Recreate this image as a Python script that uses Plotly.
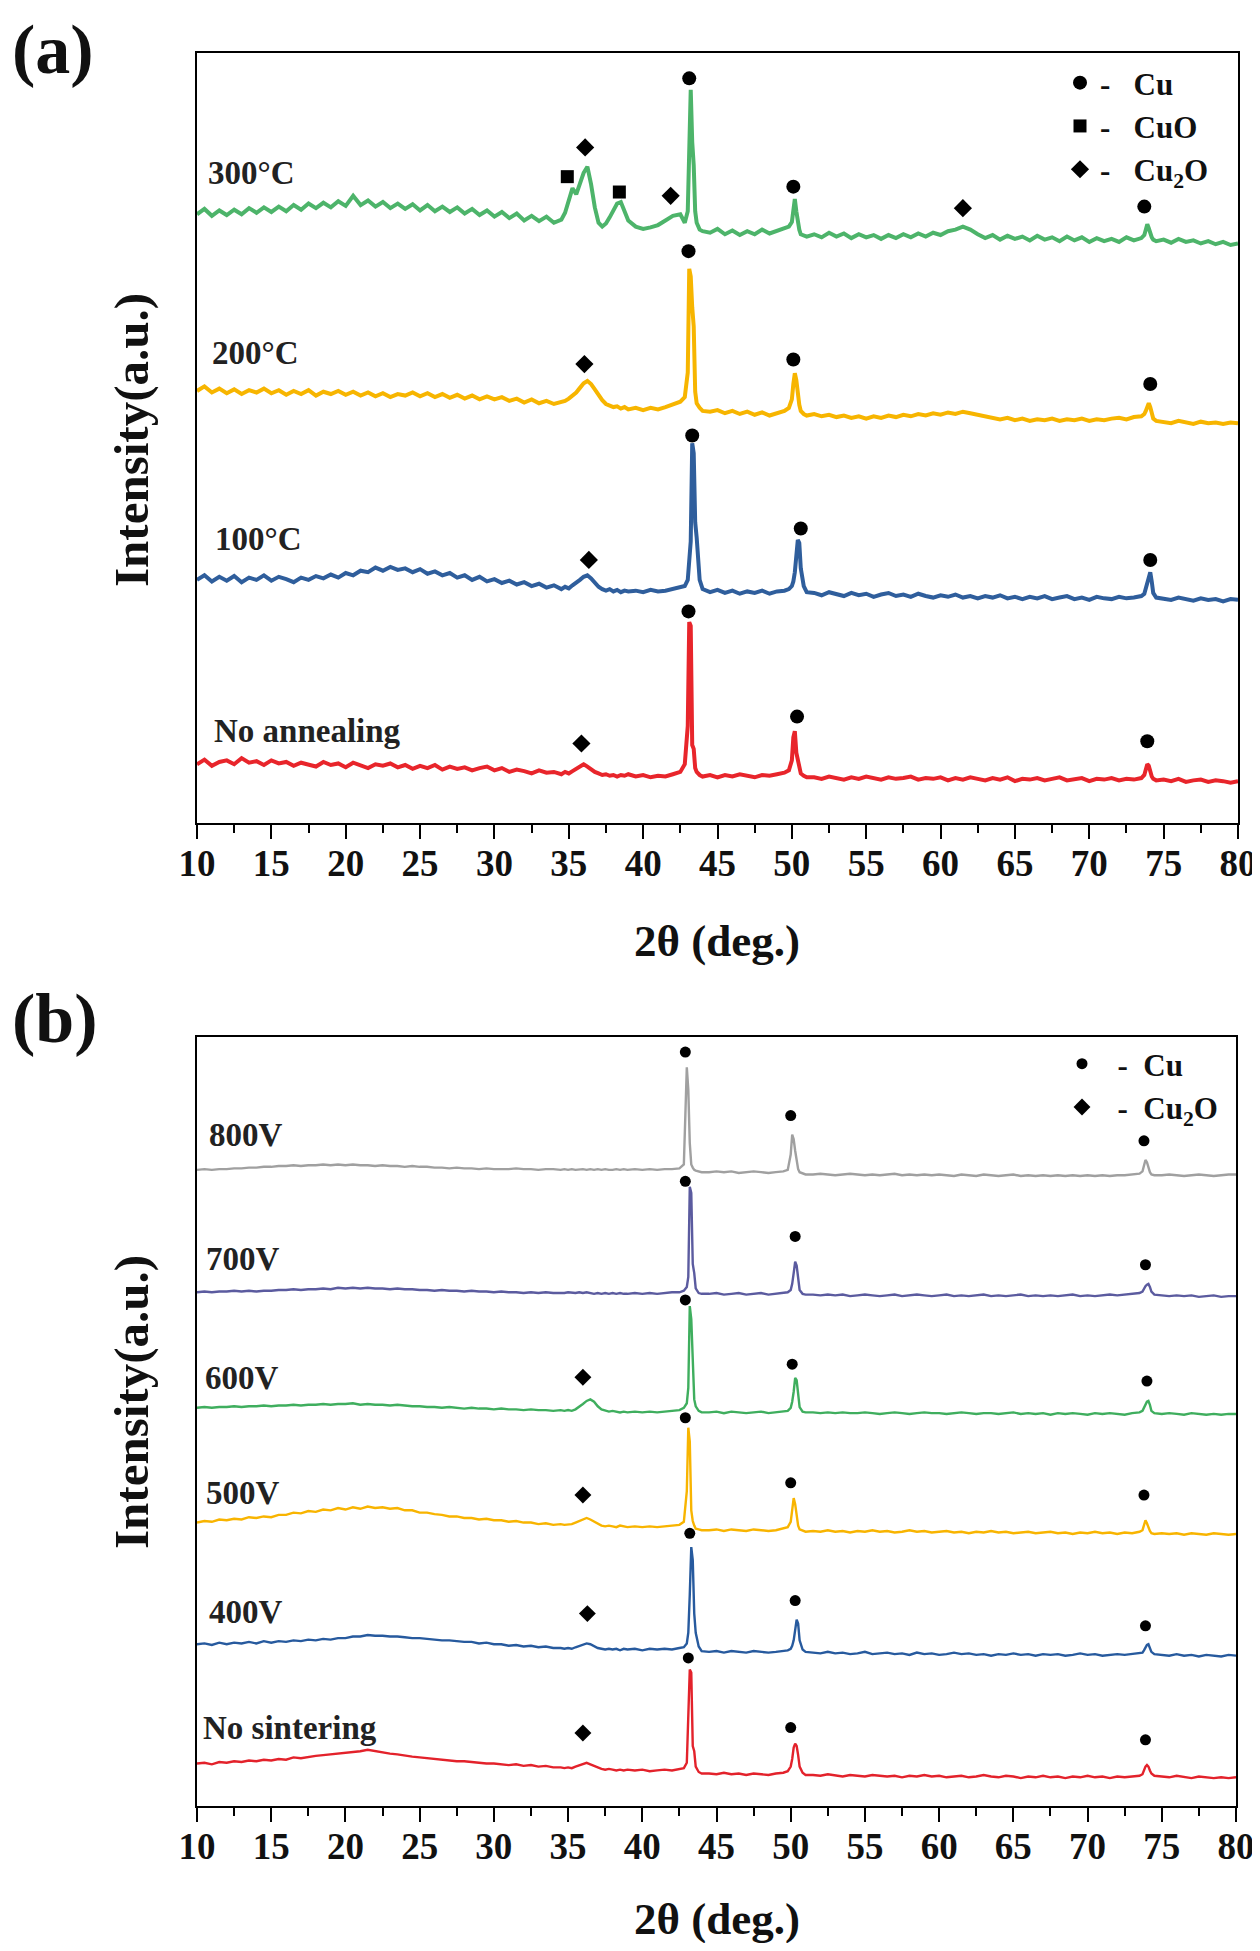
import plotly.graph_objects as go

# ---------------- shared 2-theta grid (deg) ----------------
TWO_THETA = [
    10.0, 10.5, 11.0, 11.5, 12.0, 12.5, 13.0, 13.5, 14.0, 14.5, 15.0, 15.5, 16.0, 16.5, 17.0, 17.5,
    18.0, 18.5, 19.0, 19.5, 20.0, 20.5, 21.0, 21.5, 22.0, 22.5, 23.0, 23.5, 24.0, 24.5, 25.0, 25.5,
    26.0, 26.5, 27.0, 27.5, 28.0, 28.5, 29.0, 29.5, 30.0, 30.5, 31.0, 31.5, 32.0, 32.5, 33.0, 33.5,
    34.0, 34.5,
    34.75, 35.0, 35.25, 35.5, 35.75, 36.0, 36.25, 36.5, 36.75, 37.0, 37.25, 37.5, 37.75, 38.0, 38.25,
    38.5, 38.75, 39.0,
    39.5, 40.0, 40.5, 41.0, 41.5, 42.0, 42.5,
    42.8, 43.0, 43.1, 43.2, 43.3, 43.4, 43.5, 43.6, 43.8, 44.0,
    44.5, 45.0, 45.5, 46.0, 46.5, 47.0, 47.5, 48.0, 48.5, 49.0, 49.5,
    49.8, 50.0, 50.1, 50.2, 50.3, 50.4, 50.5, 50.6, 50.8, 51.0,
    51.5, 52.0, 52.5, 53.0, 53.5, 54.0, 54.5, 55.0, 55.5, 56.0, 56.5, 57.0, 57.5, 58.0, 58.5, 59.0,
    59.5, 60.0, 60.5, 61.0, 61.5, 62.0, 62.5, 63.0, 63.5, 64.0, 64.5, 65.0, 65.5, 66.0, 66.5, 67.0,
    67.5, 68.0, 68.5, 69.0, 69.5, 70.0, 70.5, 71.0, 71.5, 72.0, 72.5, 73.0, 73.5,
    73.7, 73.8, 73.9, 74.0, 74.1, 74.2, 74.3, 74.5,
    75.0, 75.5, 76.0, 76.5, 77.0, 77.5, 78.0, 78.5, 79.0, 79.5, 80.0,
]

# ---------------- panel (a): annealing temperature (stacked intensity, a.u.) ----------------
A_NAMES = ["No annealing", "100°C", "200°C", "300°C"]

a_no_annealing = [
    7.0, 7.6, 6.8, 7.3, 7.5, 7.0, 7.8, 7.2, 7.4, 6.9, 7.5, 7.1, 7.3, 6.8, 7.2, 7.0, 6.7, 7.3, 6.9, 7.1,
    6.6, 7.2, 6.9, 6.5, 7.0, 6.8, 7.1, 6.6, 6.9, 6.4, 6.8, 6.5, 6.9, 6.3, 6.7, 6.4, 6.6, 6.2, 6.5, 6.7,
    6.2, 6.5, 6.0, 6.3, 6.1, 5.8, 6.2, 5.9, 6.0, 5.7,
    6.0, 5.8, 6.1, 6.4, 6.8, 7.0, 6.7, 6.3, 6.0, 5.8, 5.6, 5.7, 5.5, 5.6, 5.4, 5.6, 5.5, 5.7,
    5.4, 5.6, 5.3, 5.5, 5.4, 5.7, 6.0,
    7.0, 12.0, 25.5, 25.0, 9.5, 9.0, 6.5, 6.0, 5.6, 5.4,
    5.6, 5.3, 5.6, 5.4, 5.7, 5.5, 5.3, 5.6, 5.5, 5.7, 5.9,
    6.2, 7.5, 10.5, 11.3, 8.5, 7.6, 6.5, 5.8, 5.5, 5.3,
    5.3, 5.1, 5.4, 5.2, 5.0, 5.3, 5.1, 5.4, 5.2, 5.0, 5.3, 5.1, 5.2, 5.4, 5.0, 5.2, 5.1, 5.3, 4.9, 5.2,
    5.0, 5.3, 5.1, 4.9, 5.2, 5.0, 5.3, 4.8, 5.1, 5.0, 5.2, 4.9, 5.1, 5.3, 4.9, 5.0, 5.2, 4.8, 5.1, 5.0,
    5.2, 4.9, 5.1, 5.0, 5.2,
    5.6, 6.6, 7.0, 6.8, 6.0, 5.4, 5.1, 4.9,
    5.0, 4.8, 5.1, 4.7, 4.9, 5.0, 4.7, 4.9, 4.8, 4.6, 4.8,
]

a_100 = [
    31.0, 31.6, 30.8, 31.4, 30.9, 31.5, 30.7, 31.3, 31.0, 31.6, 30.9, 31.4, 31.1, 30.7, 31.3, 31.0,
    31.5, 31.2, 31.7, 31.3, 31.9, 31.6, 32.2, 32.0, 32.6, 32.2, 32.7, 32.3, 32.5, 32.0, 32.4, 31.8,
    32.1, 31.6, 31.9, 31.3, 31.6, 31.0, 31.4, 30.8, 31.1, 30.6, 30.9, 30.4, 30.7, 30.2, 30.5, 30.0,
    30.3, 29.8,
    30.1, 29.9, 30.3, 30.6, 31.0, 31.4, 31.6, 31.2, 30.6, 30.1, 29.8, 29.6, 29.8, 29.5, 29.7, 29.4, 29.6, 29.5,
    29.6, 29.4, 29.7, 29.5, 29.6, 29.8, 30.0,
    30.2, 31.0, 33.0, 36.0, 48.8, 47.5, 38.5, 36.5, 31.0, 29.8,
    29.4, 29.7, 29.3, 29.6, 29.2, 29.5, 29.3, 29.6, 29.2, 29.5, 29.6,
    29.8, 30.2, 30.8, 32.0, 34.5, 36.2, 35.8, 32.5, 30.2, 29.4,
    29.3, 29.0, 29.4, 29.1, 28.9, 29.3, 29.0, 29.2, 28.8, 29.1, 29.3, 28.9, 29.1, 28.8, 29.2, 28.9,
    28.7, 29.0, 28.8, 29.1, 28.7, 28.9, 28.6, 28.9, 28.7, 29.0, 28.6, 28.8, 28.5, 28.8, 28.6, 28.9,
    28.5, 28.7, 28.9, 28.5, 28.7, 28.4, 28.8, 28.6, 28.5, 28.8, 28.6, 28.7, 28.9,
    29.2, 29.8, 30.5, 31.4, 32.0, 30.8, 29.3, 28.7,
    28.6, 28.4, 28.7, 28.5, 28.3, 28.6, 28.4, 28.5, 28.2, 28.5, 28.4,
]

a_200 = [
    55.6, 56.2, 55.4, 55.9, 55.3, 55.8, 55.2, 55.7, 55.4, 55.9, 55.3, 55.7, 55.1, 55.6, 55.2, 55.7,
    55.0, 55.5, 55.2, 55.6, 55.1, 55.5, 55.0, 55.4, 54.9, 55.3, 54.8, 55.2, 55.0, 55.4, 54.9, 55.3,
    54.8, 55.2, 54.7, 55.1, 54.6, 55.0, 54.5, 54.9, 54.5, 54.8, 54.3, 54.6, 54.1, 54.5, 54.0, 54.3,
    53.9, 54.2,
    54.3, 54.6, 55.0, 55.4, 56.0, 56.6, 56.9, 56.5, 55.8, 55.0, 54.4, 53.9, 53.7, 53.5, 53.6, 53.3, 53.5, 53.2,
    53.4, 53.1, 53.4, 53.2, 53.5, 53.8, 54.2,
    54.8, 58.0, 71.5, 70.5, 66.5, 64.0, 55.5, 54.0, 53.4, 53.0,
    52.9, 53.1, 52.7, 53.0, 52.6, 52.9, 52.5, 52.8, 52.4, 52.7, 53.0,
    53.4, 54.5, 56.5, 57.9, 57.0, 55.0, 53.8, 53.0, 52.6, 52.4,
    52.6, 52.3, 52.5, 52.2, 52.4, 52.1, 52.3, 52.0, 52.3, 52.1, 52.4, 52.2, 52.5, 52.3, 52.6, 52.4,
    52.7, 52.5, 52.8, 52.6, 52.9, 52.7, 52.5, 52.3, 52.1, 51.9, 52.1, 51.8, 52.0, 51.7, 51.9, 51.8,
    52.0, 51.7, 51.9, 51.8, 52.0, 51.7, 51.9, 51.8, 52.0, 52.1, 51.9, 52.2, 52.3,
    52.6, 53.0, 53.6, 54.0, 53.5, 52.6, 52.0, 51.7,
    51.6, 51.4, 51.7, 51.5, 51.3, 51.6, 51.4, 51.5, 51.3, 51.5, 51.4,
]

a_300 = [
    78.6, 79.3, 78.4, 79.1, 78.5, 79.2, 78.6, 79.4, 78.8, 79.5, 78.9, 79.6, 79.0, 79.8, 79.2, 80.0,
    79.4, 80.1, 79.5, 80.3, 79.7, 81.0, 79.8, 80.4, 79.6, 80.2, 79.4, 80.0, 79.3, 79.9, 79.1, 79.8,
    79.0, 79.6, 78.9, 79.5, 78.7, 79.3, 78.5, 79.1, 78.3, 78.9, 78.1, 78.7, 77.8, 78.4, 77.7, 78.3,
    77.5, 77.9,
    78.8, 80.5, 82.0, 81.2, 82.5, 84.0, 84.8, 82.5, 79.5, 77.5, 77.0, 77.4, 78.2, 79.0, 80.0, 80.2, 79.0, 77.8,
    77.0, 76.7, 76.9, 77.2, 77.8, 78.4, 78.6,
    77.5, 79.0, 90.0, 94.8, 88.0, 85.0, 79.0, 77.5, 76.6, 76.4,
    76.2, 76.7, 76.0, 76.5, 75.9, 76.4, 76.0, 76.6, 76.1, 76.5, 76.8,
    77.0, 77.6, 79.5, 80.6, 79.0, 77.4, 76.6, 76.0, 75.9, 75.7,
    76.0, 75.6, 76.2, 75.7, 76.1, 75.5, 76.0, 75.6, 75.9, 75.4, 75.9, 75.5, 76.0, 75.6, 76.1, 75.7,
    76.2, 75.9, 76.4, 76.6, 77.0, 76.6, 76.0, 75.5, 75.9, 75.3, 75.8, 75.4, 75.7, 75.2, 75.8, 75.3,
    75.6, 75.1, 75.7, 75.2, 75.6, 75.0, 75.5, 75.1, 75.4, 75.0, 75.6, 75.2, 75.5,
    75.9, 76.6, 77.3, 76.8, 76.0, 75.6, 75.3, 75.1,
    75.3, 74.9, 75.4, 75.0, 75.2, 74.8, 75.1, 74.7, 75.0, 74.6, 74.8,
]

# phase markers, panel (a)
A_CU_X = [43.05, 50.35, 73.9, 43.3, 50.6, 74.1, 43.05, 50.1, 74.1, 43.1, 50.1, 73.7]
A_CU_Y = [26.9, 13.2, 10.0, 49.8, 37.7, 33.6, 73.8, 59.7, 56.5, 96.3, 82.2, 79.6]
A_CUO_X = [34.9, 38.4]
A_CUO_Y = [83.5, 81.5]
A_CU2O_X = [35.85, 36.35, 36.05, 36.1, 41.85, 61.5]
A_CU2O_Y = [9.7, 33.6, 59.1, 87.3, 81.0, 79.4]

# ---------------- panel (b): sintering voltage ----------------
B_NAMES = ["No sintering", "400V", "500V", "600V", "700V", "800V"]

b_no_sintering = [
    4.9, 5.0, 4.8, 5.1, 5.0, 5.2, 5.1, 5.3, 5.2, 5.4, 5.3, 5.5, 5.4, 5.7, 5.6, 5.8, 5.9, 6.0, 6.1, 6.2,
    6.3, 6.4, 6.5, 6.7, 6.5, 6.4, 6.2, 6.1, 5.9, 5.8, 5.7, 5.6, 5.5, 5.4, 5.3, 5.2, 5.2, 5.1, 5.0, 4.9,
    4.9, 4.8, 4.7, 4.8, 4.6, 4.7, 4.5, 4.6, 4.4, 4.4,
    4.3, 4.4, 4.3, 4.5, 4.7, 4.9, 5.0, 4.8, 4.6, 4.3, 4.2, 4.1, 4.2, 4.1, 4.0, 4.1, 4.0, 4.1,
    4.0, 4.1, 3.9, 4.0, 4.1, 4.0, 4.2,
    4.3, 5.0, 12.0, 17.2, 16.8, 7.2, 6.5, 4.5, 3.8, 3.6,
    3.6, 3.5, 3.7, 3.5, 3.6, 3.4, 3.6, 3.5, 3.4, 3.6, 3.7,
    3.9, 4.5, 5.5, 7.0, 7.5, 7.2, 6.0, 4.5, 3.7, 3.4,
    3.4, 3.3, 3.5, 3.3, 3.2, 3.4, 3.3, 3.2, 3.4, 3.3, 3.2, 3.3, 3.1, 3.3, 3.2, 3.4, 3.2, 3.3, 3.1, 3.2,
    3.3, 3.1, 3.2, 3.4, 3.2, 3.1, 3.3, 3.2, 3.0, 3.2, 3.1, 3.3, 3.1, 3.2, 3.0, 3.2, 3.1, 3.3, 3.1, 3.2,
    3.0, 3.2, 3.1, 3.2, 3.3,
    3.5, 4.0, 4.5, 4.7, 4.5, 4.0, 3.6, 3.3,
    3.2, 3.1, 3.3, 3.1, 3.0, 3.2, 3.1, 3.0, 3.1, 3.0, 3.1,
]

b_400 = [
    20.5, 20.6, 20.4, 20.7, 20.5, 20.7, 20.6, 20.8, 20.6, 20.9, 20.7, 20.9, 20.8, 21.0, 20.9, 21.1,
    21.0, 21.2, 21.1, 21.3, 21.3, 21.5, 21.5, 21.7, 21.6, 21.6, 21.5, 21.5, 21.4, 21.3, 21.3, 21.2,
    21.1, 21.0, 21.0, 20.9, 20.8, 20.8, 20.6, 20.7, 20.5, 20.5, 20.3, 20.4, 20.2, 20.3, 20.1, 20.2,
    20.0, 20.0,
    19.9, 20.0, 19.9, 20.1, 20.3, 20.5, 20.6, 20.5, 20.2, 20.0, 19.9, 19.8, 19.9, 19.8, 19.9, 19.7, 19.9, 19.8,
    19.9, 19.7, 19.9, 19.8, 19.9, 19.8, 20.0,
    20.1, 20.6, 22.0, 27.0, 33.2, 31.5, 24.5, 22.0, 20.2, 19.6,
    19.5, 19.6, 19.4, 19.6, 19.5, 19.4, 19.6, 19.5, 19.4, 19.5, 19.6,
    19.7, 19.9, 20.3, 21.0, 22.5, 23.7, 23.2, 21.0, 19.8, 19.5,
    19.4, 19.3, 19.5, 19.3, 19.4, 19.2, 19.3, 19.5, 19.2, 19.3, 19.4, 19.2, 19.3, 19.1, 19.4, 19.2,
    19.3, 19.1, 19.2, 19.4, 19.2, 19.3, 19.1, 19.2, 19.0, 19.2, 19.1, 19.3, 19.1, 19.2, 19.0, 19.2,
    19.1, 19.2, 19.0, 19.1, 19.3, 19.1, 19.2, 19.0, 19.1, 19.2, 19.1, 19.2, 19.3,
    19.4, 19.7, 20.0, 20.4, 20.5, 20.1, 19.5, 19.2,
    19.1, 19.0, 19.2, 19.0, 19.1, 18.9, 19.1, 19.0, 18.9, 19.1, 19.0,
]

b_500 = [
    36.4, 36.6, 36.5, 36.8, 36.7, 36.9, 36.8, 37.1, 37.0, 37.2, 37.1, 37.4, 37.4, 37.7, 37.6, 37.9,
    37.8, 38.1, 38.0, 38.3, 38.1, 38.4, 38.2, 38.5, 38.3, 38.4, 38.2, 38.3, 38.0, 38.0, 37.7, 37.7,
    37.5, 37.4, 37.2, 37.2, 37.0, 37.0, 36.8, 36.9, 36.7, 36.7, 36.5, 36.6, 36.4, 36.4, 36.2, 36.3,
    36.1, 36.2,
    36.1, 36.2, 36.2, 36.4, 36.6, 36.9, 37.0, 36.8, 36.5, 36.2, 36.0, 35.9, 36.0, 35.9, 35.8, 36.0, 35.9, 35.8,
    35.9, 35.8, 35.9, 35.8, 35.9, 36.0, 36.1,
    36.5, 40.5, 48.8, 47.0, 38.0, 36.6, 36.0, 35.6, 35.5, 35.4,
    35.4, 35.5, 35.3, 35.5, 35.4, 35.3, 35.5, 35.4, 35.3, 35.4, 35.6,
    35.8, 36.5, 38.5, 39.6, 38.8, 37.0, 36.0, 35.5, 35.3, 35.2,
    35.3, 35.2, 35.4, 35.2, 35.3, 35.1, 35.3, 35.2, 35.4, 35.2, 35.3, 35.1, 35.2, 35.4, 35.2, 35.3,
    35.1, 35.2, 35.3, 35.1, 35.2, 35.0, 35.2, 35.1, 35.3, 35.1, 35.2, 35.0, 35.1, 35.2, 35.0, 35.1,
    35.2, 35.0, 35.1, 34.9, 35.1, 35.0, 35.2, 35.0, 35.1, 34.9, 35.1, 35.0, 35.2,
    35.4, 36.0, 36.7, 36.3, 35.7, 35.3, 35.0, 34.9,
    35.0, 34.9, 35.0, 34.8, 35.0, 34.9, 34.8, 35.0, 34.9, 34.8, 34.9,
]

b_600 = [
    51.4, 51.5, 51.4, 51.5, 51.5, 51.6, 51.5, 51.6, 51.6, 51.7, 51.6, 51.7, 51.7, 51.8, 51.7, 51.8,
    51.8, 51.9, 51.8, 51.9, 51.9, 52.0, 51.8, 51.9, 51.8, 51.8, 51.7, 51.8, 51.7, 51.6, 51.6, 51.5,
    51.5, 51.4, 51.5, 51.4, 51.3, 51.4, 51.3, 51.3, 51.2, 51.3, 51.2, 51.2, 51.1, 51.2, 51.1, 51.1,
    51.0, 51.1,
    51.0, 51.1, 51.0, 51.2, 51.5, 51.9, 52.3, 52.5, 52.2, 51.6, 51.2, 51.0, 50.9, 51.0, 50.9, 50.8, 50.9, 50.8,
    50.9, 50.8, 50.9, 50.8, 50.9, 51.0, 51.1,
    51.4, 52.0, 54.0, 64.7, 63.0, 58.6, 52.5, 51.6, 51.0, 50.8,
    50.8, 50.9, 50.7, 50.9, 50.8, 50.7, 50.8, 50.9, 50.7, 50.8, 50.9,
    51.0, 51.4, 52.2, 53.5, 55.3, 55.0, 53.0, 51.5, 50.9, 50.8,
    50.8, 50.7, 50.8, 50.7, 50.8, 50.7, 50.7, 50.8, 50.7, 50.6, 50.7, 50.8, 50.7, 50.6, 50.7, 50.8,
    50.7, 50.7, 50.6, 50.7, 50.8, 50.7, 50.6, 50.7, 50.7, 50.6, 50.7, 50.8, 50.6, 50.7, 50.6, 50.7,
    50.5, 50.7, 50.6, 50.7, 50.6, 50.5, 50.7, 50.6, 50.7, 50.6, 50.5, 50.7, 50.8,
    51.0, 51.4, 51.8, 52.2, 52.3, 51.8, 51.0, 50.7,
    50.6, 50.7, 50.6, 50.5, 50.7, 50.6, 50.5, 50.6, 50.5, 50.6, 50.6,
]

b_700 = [
    66.5, 66.6, 66.5, 66.6, 66.6, 66.7, 66.6, 66.7, 66.6, 66.7, 66.7, 66.8, 66.8, 66.9, 66.8, 66.9,
    66.9, 67.0, 66.9, 67.1, 67.0, 67.1, 67.0, 67.1, 67.0, 67.0, 66.9, 67.0, 66.9, 66.9, 66.8, 66.8,
    66.7, 66.8, 66.7, 66.7, 66.6, 66.7, 66.6, 66.6, 66.5, 66.6, 66.5, 66.5, 66.4, 66.5, 66.4, 66.5,
    66.4, 66.4,
    66.4, 66.5, 66.4, 66.4, 66.5, 66.4, 66.5, 66.4, 66.3, 66.4, 66.3, 66.4, 66.3, 66.4, 66.3, 66.4, 66.3, 66.3,
    66.4, 66.3, 66.4, 66.3, 66.4, 66.5, 66.5,
    66.7, 67.2, 68.5, 80.3, 79.5, 70.2, 69.0, 67.0, 66.4, 66.3,
    66.3, 66.4, 66.2, 66.3, 66.4, 66.2, 66.3, 66.4, 66.2, 66.3, 66.4,
    66.5, 66.8, 67.6, 69.0, 70.5, 70.0, 68.0, 66.8, 66.3, 66.2,
    66.2, 66.1, 66.2, 66.1, 66.2, 66.0, 66.1, 66.2, 66.1, 66.0, 66.1, 66.2, 66.0, 66.1, 66.2, 66.1,
    66.0, 66.1, 66.2, 66.0, 66.1, 66.0, 66.1, 66.2, 66.0, 66.1, 66.0, 66.1, 66.2, 66.0, 66.1, 66.0,
    66.1, 66.0, 66.1, 66.2, 66.0, 66.1, 66.0, 66.1, 66.2, 66.1, 66.2, 66.3, 66.4,
    66.6, 67.0, 67.3, 67.5, 67.6, 67.2, 66.6, 66.2,
    66.1, 66.0, 66.1, 66.0, 66.1, 65.9, 66.0, 66.1, 65.9, 66.0, 66.0,
]

b_800 = [
    82.5, 82.6, 82.5, 82.6, 82.6, 82.7, 82.7, 82.8, 82.8, 82.9, 82.9, 83.0, 83.0, 83.1, 83.0, 83.1,
    83.1, 83.2, 83.1, 83.2, 83.1, 83.2, 83.1, 83.1, 83.0, 83.1, 83.0, 83.0, 82.9, 83.0, 82.9, 82.9,
    82.8, 82.8, 82.7, 82.8, 82.7, 82.7, 82.6, 82.7, 82.6, 82.6, 82.6, 82.7, 82.6, 82.6, 82.5, 82.6,
    82.6, 82.5,
    82.6, 82.5, 82.6, 82.5, 82.6, 82.6, 82.5, 82.6, 82.5, 82.6, 82.5, 82.6, 82.5, 82.5, 82.6, 82.5, 82.6, 82.5,
    82.6, 82.5, 82.6, 82.5, 82.6, 82.6, 82.7,
    83.2, 95.9, 93.0, 86.0, 83.2, 82.8, 82.5, 82.4, 82.3, 82.2,
    82.2, 82.3, 82.2, 82.3, 82.1, 82.2, 82.3, 82.2, 82.1, 82.2, 82.3,
    82.5, 84.5, 87.1, 86.5, 85.0, 83.5, 82.6, 82.2, 82.0, 81.9,
    81.9, 82.0, 81.9, 81.8, 81.9, 82.0, 81.9, 81.8, 81.9, 81.8, 81.9, 82.0, 81.8, 81.9, 81.8, 81.9,
    81.8, 81.9, 81.8, 81.7, 81.9, 81.8, 81.7, 81.9, 81.8, 81.7, 81.8, 81.9, 81.7, 81.8, 81.7, 81.8,
    81.7, 81.8, 81.7, 81.8, 81.7, 81.8, 81.7, 81.8, 81.7, 81.8, 81.8, 81.9, 82.0,
    82.3, 83.2, 83.8, 83.5, 82.8, 82.2, 81.9, 81.8,
    81.8, 81.9, 81.8, 81.7, 81.8, 81.9, 81.8, 81.7, 81.8, 81.9, 81.9,
]

# phase markers, panel (b)
B_CU_X = [43.1, 50.0, 73.9, 43.2, 50.3, 73.9, 42.9, 50.0, 73.8, 42.9, 50.1, 74.0, 42.9, 50.3, 73.9, 42.9, 50.0, 73.8]
B_CU_Y = [18.7, 9.6, 8.0, 35.0, 26.2, 22.9, 50.1, 41.6, 40.0, 65.5, 57.1, 54.9, 81.0, 73.8, 70.1, 97.9, 89.6, 86.3]
B_CU2O_X = [36.0, 36.3, 36.0, 36.0]
B_CU2O_Y = [8.9, 24.5, 40.0, 55.4]

X_TICKS = [10, 15, 20, 25, 30, 35, 40, 45, 50, 55, 60, 65, 70, 75, 80]
X_TICK_TEXT = [str(t) for t in X_TICKS]
X_MINOR = [12.5, 17.5, 22.5, 27.5, 32.5, 37.5, 42.5, 47.5, 52.5, 57.5, 62.5, 67.5, 72.5, 77.5]

A_SERIES = [a_no_annealing, a_100, a_200, a_300]
B_SERIES = [b_no_sintering, b_400, b_500, b_600, b_700, b_800]
for s in A_SERIES + B_SERIES:
    assert len(s) == len(TWO_THETA), len(s)

# ---------------- styling ----------------
FONT = "Liberation Serif"
A_COLORS = ["#E8252B", "#2F5E9C", "#F7B500", "#4DB46A"]
B_COLORS = ["#E3222B", "#275A9E", "#F8B400", "#3FAE5E", "#5B5B9F", "#A0A0A0"]
A_LABEL_POS = [(11.0, 11.3), (11.1, 36.3), (10.9, 60.6), (10.6, 84.0)]
B_LABEL_POS = [(10.3, 9.5), (10.7, 24.7), (10.5, 40.2), (10.4, 55.3), (10.5, 70.8), (10.7, 87.0)]

fig = go.Figure()

for name, ys, col in zip(A_NAMES, A_SERIES, A_COLORS):
    fig.add_trace(go.Scatter(x=TWO_THETA, y=ys, mode="lines", name=name, showlegend=False,
                             line=dict(color=col, width=4), xaxis="x", yaxis="y"))
for name, ys, col in zip(B_NAMES, B_SERIES, B_COLORS):
    fig.add_trace(go.Scatter(x=TWO_THETA, y=ys, mode="lines", name=name, showlegend=False,
                             line=dict(color=col, width=2.4), xaxis="x2", yaxis="y2"))

NB = "\u00a0"
fig.add_trace(go.Scatter(x=A_CU_X, y=A_CU_Y, mode="markers", name="-" + NB * 3 + "Cu",
                         marker=dict(symbol="circle", size=14, color="black"),
                         xaxis="x", yaxis="y", legend="legend"))
fig.add_trace(go.Scatter(x=A_CUO_X, y=A_CUO_Y, mode="markers", name="-" + NB * 3 + "CuO",
                         marker=dict(symbol="square", size=13, color="black"),
                         xaxis="x", yaxis="y", legend="legend"))
fig.add_trace(go.Scatter(x=A_CU2O_X, y=A_CU2O_Y, mode="markers",
                         name="-" + NB * 3 + "Cu<sub>2</sub>O",
                         marker=dict(symbol="diamond", size=14, color="black"),
                         xaxis="x", yaxis="y", legend="legend"))
fig.add_trace(go.Scatter(x=B_CU_X, y=B_CU_Y, mode="markers", name=NB * 2 + "-" + NB * 2 + "Cu",
                         marker=dict(symbol="circle", size=11, color="black"),
                         xaxis="x2", yaxis="y2", legend="legend2"))
fig.add_trace(go.Scatter(x=B_CU2O_X, y=B_CU2O_Y, mode="markers",
                         name=NB * 2 + "-" + NB * 2 + "Cu<sub>2</sub>O",
                         marker=dict(symbol="diamond", size=13, color="black"),
                         xaxis="x2", yaxis="y2", legend="legend2"))

# the page body has an 8px margin: the figure is sized to fit the window exactly
OFF = 8
W, H = 1260 - OFF, 1951 - 2 * OFF
def px_x(p):
    return (p - OFF) / W
def px_y(p):
    return 1 - (p - OFF) / H

xaxis_common = dict(
    range=[10, 80], showgrid=False, zeroline=False, automargin=False,
    showline=True, linecolor="black", linewidth=2.2, mirror=True,
    ticks="outside", ticklen=14, tickwidth=2, tickcolor="black",
    tickmode="array", tickvals=X_TICKS, ticktext=X_TICK_TEXT,
    minor=dict(tickmode="array", tickvals=X_MINOR, ticks="outside", ticklen=8, tickwidth=2,
               tickcolor="black"),
    tickfont=dict(family=FONT, size=37, color="#111111", weight="bold"),
    ticklabelstandoff=-8,
)
yaxis_common = dict(
    showgrid=False, zeroline=False, showticklabels=False, ticks="", automargin=False,
    showline=True, linecolor="black", linewidth=2.2, mirror=True,
)

fig.update_layout(
    width=W, height=H,
    margin=dict(l=0, r=0, t=0, b=0, pad=0, autoexpand=False),
    paper_bgcolor="white", plot_bgcolor="white",
    font=dict(family=FONT, color="#111111"),
    xaxis=dict(domain=[px_x(197), px_x(1238)], anchor="y", **xaxis_common),
    yaxis=dict(domain=[px_y(823), px_y(53)], anchor="x", range=[-0.65, 99.6], **yaxis_common),
    xaxis2=dict(domain=[px_x(197), px_x(1236)], anchor="y2", **xaxis_common),
    yaxis2=dict(domain=[px_y(1806), px_y(1037)], anchor="x2", range=[-0.65, 99.87], **yaxis_common),
    legend=dict(x=px_x(1060), y=px_y(56), xanchor="left", yanchor="top",
                bgcolor="rgba(0,0,0,0)", itemsizing="trace", tracegroupgap=0,
                font=dict(family=FONT, size=31, color="#111111", weight="bold")),
    legend2=dict(x=px_x(1062), y=px_y(1037), xanchor="left", yanchor="top",
                 bgcolor="rgba(0,0,0,0)", itemsizing="trace", tracegroupgap=0,
                 font=dict(family=FONT, size=31, color="#111111", weight="bold")),
    showlegend=True,
)

annotations = []
label_font = dict(family=FONT, size=33, color="#222222", weight="bold")
for name, (lx, ly) in zip(A_NAMES, A_LABEL_POS):
    annotations.append(dict(x=lx, y=ly, xref="x", yref="y", text=name, showarrow=False,
                            xanchor="left", yanchor="middle", font=label_font))
for name, (lx, ly) in zip(B_NAMES, B_LABEL_POS):
    annotations.append(dict(x=lx, y=ly, xref="x2", yref="y2", text=name, showarrow=False,
                            xanchor="left", yanchor="middle", font=label_font))

xt_font = dict(family=FONT, size=45, color="#111111", weight="bold")
for yc in (941, 1919):
    annotations.append(dict(x=px_x(717), y=px_y(yc), xref="paper", yref="paper", text="2θ (deg.)",
                            showarrow=False, xanchor="center", yanchor="middle", font=xt_font))
yt_font = dict(family=FONT, size=49, color="#111111", weight="bold")
for yc in (440, 1402):
    annotations.append(dict(x=px_x(131), y=px_y(yc), xref="paper", yref="paper",
                            text="Intensity(a.u.)", textangle=-90, showarrow=False,
                            xanchor="center", yanchor="middle", font=yt_font))
panel_font = dict(family=FONT, size=70, color="#111111", weight="bold")
annotations.append(dict(x=px_x(10), y=px_y(9), xref="paper", yref="paper", text="(a)",
                        showarrow=False, xanchor="left", yanchor="top", font=panel_font))
annotations.append(dict(x=px_x(10), y=px_y(1019), xref="paper", yref="paper", text="(b)",
                        showarrow=False, xanchor="left", yanchor="middle", font=panel_font))
fig.update_layout(annotations=annotations)

fig.write_html("out.html")
